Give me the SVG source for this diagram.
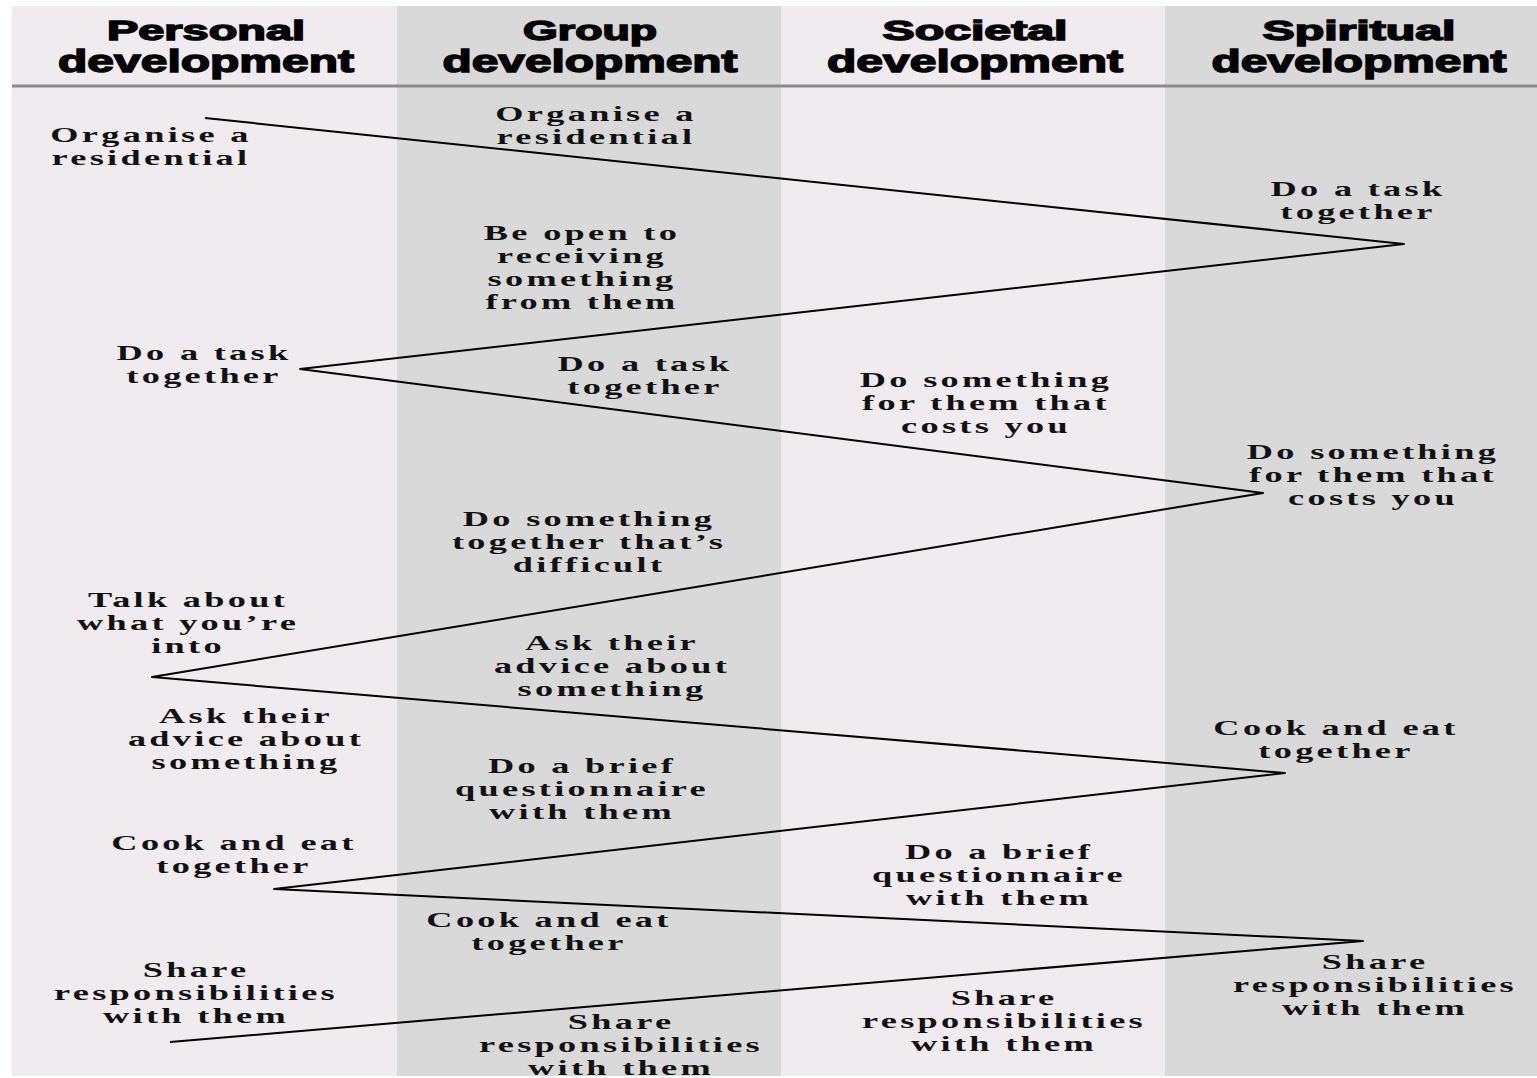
<svg xmlns="http://www.w3.org/2000/svg" width="1537" height="1078" viewBox="0 0 1537 1078">
<style>
.lt{fill:#efebee}
.dk{fill:#d9d9d9}
.hd{font-family:"Liberation Sans",Arial,sans-serif;font-weight:bold;fill:#000;stroke:#000;stroke-width:1.4;text-anchor:middle}
.h1{font-size:27px}
.h2{font-size:31px}
.lb{font-family:"Liberation Serif","Times New Roman",serif;font-weight:bold;font-size:22px;letter-spacing:2px;fill:#111;text-anchor:middle;transform:scale(1.65,1)}
.zz{fill:none;stroke:#000;stroke-width:2;stroke-linejoin:round}
</style>
<rect x="0" y="0" width="1537" height="1078" fill="#ffffff"/>
<g id="columns">
<rect class="lt" x="12" y="6" width="386" height="1070"/>
<rect class="dk" x="397" y="6" width="385" height="1070"/>
<rect class="lt" x="781" y="6" width="385" height="1070"/>
<rect class="dk" x="1165" y="6" width="372" height="1070"/>
<line x1="12" y1="86" x2="1537" y2="86" stroke="#8a8a8a" stroke-width="3"/>
</g>
<g id="headers">
<g id="h-personal"><text class="hd h1" x="206" y="40" textLength="198" lengthAdjust="spacingAndGlyphs">Personal</text><text class="hd h2" x="206" y="72" textLength="296" lengthAdjust="spacingAndGlyphs">development</text></g>
<g id="h-group"><text class="hd h1" x="590" y="40" textLength="134" lengthAdjust="spacingAndGlyphs">Group</text><text class="hd h2" x="590" y="72" textLength="295" lengthAdjust="spacingAndGlyphs">development</text></g>
<g id="h-societal"><text class="hd h1" x="975" y="40" textLength="185" lengthAdjust="spacingAndGlyphs">Societal</text><text class="hd h2" x="975" y="72" textLength="296" lengthAdjust="spacingAndGlyphs">development</text></g>
<g id="h-spiritual"><text class="hd h1" x="1359" y="40" textLength="193" lengthAdjust="spacingAndGlyphs">Spiritual</text><text class="hd h2" x="1359" y="72" textLength="295" lengthAdjust="spacingAndGlyphs">development</text></g>
</g>
<g id="connectors">
<path class="zz" d="M205,118 L1404,244 L300,369 L1263,493 L152,677 L1285,773 L274,889 L1363,941 L170,1042"/>
</g>
<g id="n1" transform="translate(151,142)"><text class="lb"><tspan x="0" y="0">Organise a</tspan><tspan x="0" y="23">residential</tspan></text></g>
<g id="n2" transform="translate(204,360)"><text class="lb"><tspan x="0" y="0">Do a task</tspan><tspan x="0" y="23">together</tspan></text></g>
<g id="n3" transform="translate(188,607)"><text class="lb"><tspan x="0" y="0">Talk about</tspan><tspan x="0" y="23">what you’re</tspan><tspan x="0" y="46">into</tspan></text></g>
<g id="n4" transform="translate(246,723)"><text class="lb"><tspan x="0" y="0">Ask their</tspan><tspan x="0" y="23">advice about</tspan><tspan x="0" y="46">something</tspan></text></g>
<g id="n5" transform="translate(234,850)"><text class="lb"><tspan x="0" y="0">Cook and eat</tspan><tspan x="0" y="23">together</tspan></text></g>
<g id="n6" transform="translate(196,977)"><text class="lb"><tspan x="0" y="0">Share</tspan><tspan x="0" y="23">responsibilities</tspan><tspan x="0" y="46">with them</tspan></text></g>
<g id="n7" transform="translate(596,121)"><text class="lb"><tspan x="0" y="0">Organise a</tspan><tspan x="0" y="23">residential</tspan></text></g>
<g id="n8" transform="translate(582,240)"><text class="lb"><tspan x="0" y="0">Be open to</tspan><tspan x="0" y="23">receiving</tspan><tspan x="0" y="46">something</tspan><tspan x="0" y="69">from them</tspan></text></g>
<g id="n9" transform="translate(645,371)"><text class="lb"><tspan x="0" y="0">Do a task</tspan><tspan x="0" y="23">together</tspan></text></g>
<g id="n10" transform="translate(589,526)"><text class="lb"><tspan x="0" y="0">Do something</tspan><tspan x="0" y="23">together that’s</tspan><tspan x="0" y="46">difficult</tspan></text></g>
<g id="n11" transform="translate(612,650)"><text class="lb"><tspan x="0" y="0">Ask their</tspan><tspan x="0" y="23">advice about</tspan><tspan x="0" y="46">something</tspan></text></g>
<g id="n12" transform="translate(582,773)"><text class="lb"><tspan x="0" y="0">Do a brief</tspan><tspan x="0" y="23">questionnaire</tspan><tspan x="0" y="46">with them</tspan></text></g>
<g id="n13" transform="translate(549,927)"><text class="lb"><tspan x="0" y="0">Cook and eat</tspan><tspan x="0" y="23">together</tspan></text></g>
<g id="n14" transform="translate(621,1029)"><text class="lb"><tspan x="0" y="0">Share</tspan><tspan x="0" y="23">responsibilities</tspan><tspan x="0" y="46">with them</tspan></text></g>
<g id="n15" transform="translate(986,387)"><text class="lb"><tspan x="0" y="0">Do something</tspan><tspan x="0" y="23">for them that</tspan><tspan x="0" y="46">costs you</tspan></text></g>
<g id="n16" transform="translate(999,859)"><text class="lb"><tspan x="0" y="0">Do a brief</tspan><tspan x="0" y="23">questionnaire</tspan><tspan x="0" y="46">with them</tspan></text></g>
<g id="n17" transform="translate(1004,1005)"><text class="lb"><tspan x="0" y="0">Share</tspan><tspan x="0" y="23">responsibilities</tspan><tspan x="0" y="46">with them</tspan></text></g>
<g id="n18" transform="translate(1358,196)"><text class="lb"><tspan x="0" y="0">Do a task</tspan><tspan x="0" y="23">together</tspan></text></g>
<g id="n19" transform="translate(1373,459)"><text class="lb"><tspan x="0" y="0">Do something</tspan><tspan x="0" y="23">for them that</tspan><tspan x="0" y="46">costs you</tspan></text></g>
<g id="n20" transform="translate(1336,735)"><text class="lb"><tspan x="0" y="0">Cook and eat</tspan><tspan x="0" y="23">together</tspan></text></g>
<g id="n21" transform="translate(1375,969)"><text class="lb"><tspan x="0" y="0">Share</tspan><tspan x="0" y="23">responsibilities</tspan><tspan x="0" y="46">with them</tspan></text></g>
</svg>
